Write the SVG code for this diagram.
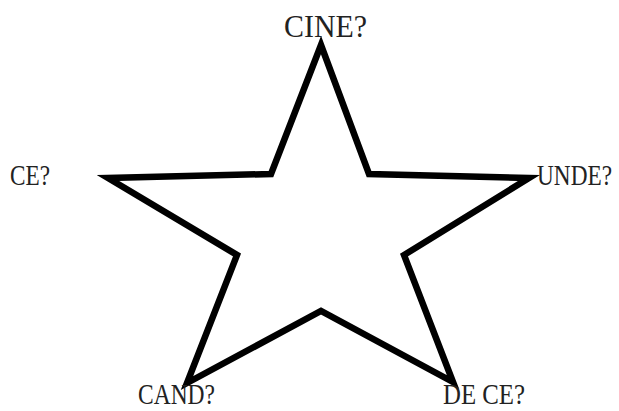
<svg xmlns="http://www.w3.org/2000/svg" width="619" height="411" viewBox="0 0 619 411">
<style>
.lbl{font-family:"Liberation Serif","Times New Roman",serif;fill:#222;}
.star{fill:none;stroke:#000;stroke-width:6.5;stroke-linejoin:miter;stroke-miterlimit:10;}
</style>
<rect width="619" height="411" fill="#fff"/>
<g id="connectors">
<polygon id="star" class="star" points="321,45 271,174 108,178 237,255 187,383 321,311 453,382 404,255 529,178 369,174"/>
</g>
<g id="cine"><text class="lbl" font-size="26" transform="translate(284,37) scale(1,1.25)" textLength="83" lengthAdjust="spacingAndGlyphs">CINE?</text></g>
<g id="ce"><text class="lbl" font-size="24" transform="translate(10,185) scale(1,1.25)" textLength="40" lengthAdjust="spacingAndGlyphs">CE?</text></g>
<g id="unde"><text class="lbl" font-size="24" transform="translate(537,185) scale(1,1.25)" textLength="75" lengthAdjust="spacingAndGlyphs">UNDE?</text></g>
<g id="cand"><text class="lbl" font-size="24" transform="translate(138,404) scale(1,1.2)" textLength="77" lengthAdjust="spacingAndGlyphs">CAND?</text></g>
<g id="dece"><text class="lbl" font-size="24" transform="translate(443,404) scale(1,1.2)" textLength="82" lengthAdjust="spacingAndGlyphs">DE CE?</text></g>
</svg>
